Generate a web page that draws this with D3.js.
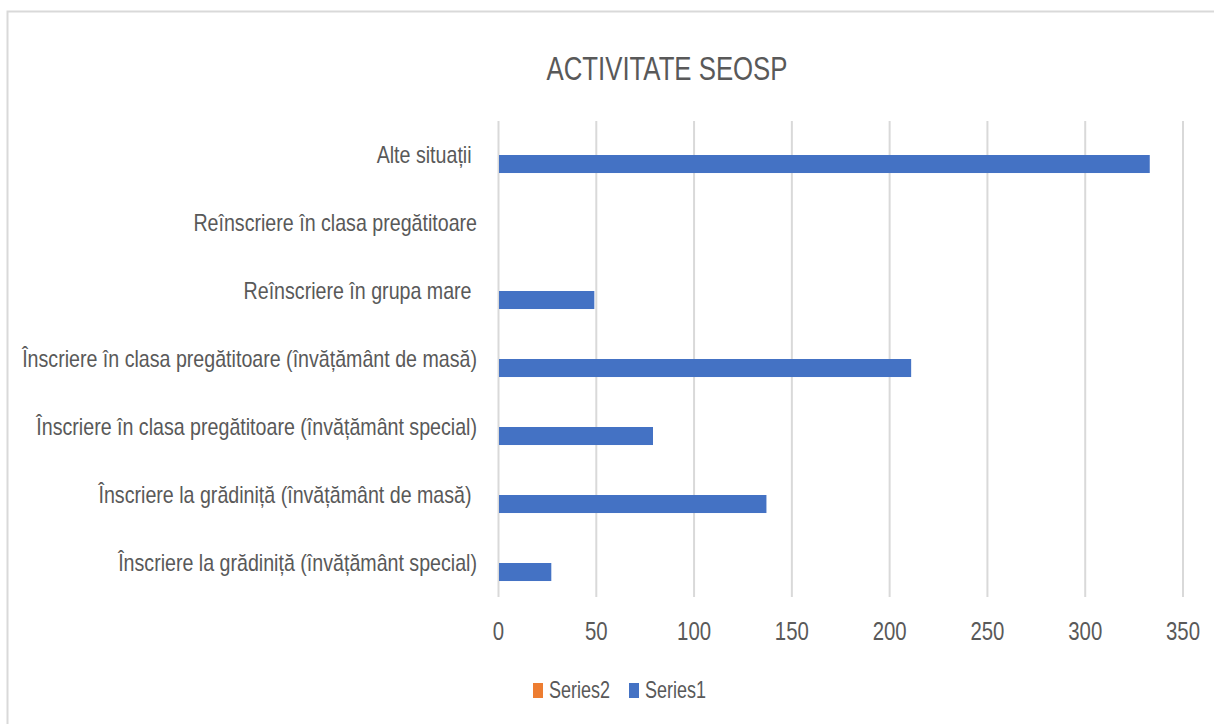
<!DOCTYPE html>
<html><head><meta charset="utf-8">
<script src="https://cdn.jsdelivr.net/npm/d3@7"></script>
<style>
body{margin:0;background:#fff;}
text{font-family:"Liberation Sans Narrow","Arial Narrow","Liberation Sans",sans-serif;fill:#595959;}
</style></head>
<body><svg id="c" width="1214" height="724"></svg>
<script>
const categories = [
  "Înscriere la grădiniță (învățământ special)",
  "Înscriere la grădiniță (învățământ de masă) ",
  "Înscriere în clasa pregătitoare (învățământ special)",
  "Înscriere în clasa pregătitoare (învățământ de masă)",
  "Reînscriere în grupa mare ",
  "Reînscriere în clasa pregătitoare",
  "Alte situații "
];
const series1 = [27, 137, 79, 211, 49, 0, 333];
const series2 = [0, 0, 0, 0, 0, 0, 0];
const seriesNames = ["Series2", "Series1"];
const seriesColors = ["#ED7D31", "#4472C4"];
const xTicks = [0, 50, 100, 150, 200, 250, 300, 350];
const title = "ACTIVITATE SEOSP";

const svg = d3.select("#c");
svg.append("rect").attr("x",7.5).attr("y",11.5).attr("width",1400).attr("height",900)
  .attr("fill","none").attr("stroke","#d9d9d9").attr("stroke-width",2);

const x = d3.scaleLinear().domain([0,350]).range([498.5,1183]);
const y = d3.scaleBand().domain(categories.slice().reverse()).range([121,597])
  .paddingInner(0.47).paddingOuter(0.235);
const sub = d3.scaleBand().domain(seriesNames).range([0,y.bandwidth()]);

// condensed-text helper: place text at (px,py) and squeeze horizontally by s
function place(sel, px, py, s){
  sel.attr("x",0).attr("y",0).attr("transform",(d,i,n)=>`translate(${px(d,i)},${py(d,i)}) scale(${s},1)`);
}
function widthOf(str, size){
  const t = svg.append("text").attr("font-size",size).style("white-space","pre").text(str);
  const w = t.node().getComputedTextLength(); t.remove(); return w;
}

// gridlines
svg.append("g").selectAll("line").data(xTicks).join("line")
  .attr("x1",d=>x(d)).attr("x2",d=>x(d)).attr("y1",121).attr("y2",597)
  .attr("stroke","#d9d9d9").attr("stroke-width",2);

// bars
const data = categories.map((c,i)=>({cat:c, vals:{Series2:series2[i], Series1:series1[i]}}));
seriesNames.forEach((s,si)=>{
  svg.append("g").selectAll("rect").data(data).join("rect")
    .attr("x",x(0)+0.5).attr("y",d=>y(d.cat)+sub(s))
    .attr("width",d=>Math.max(0,x(d.vals[s])-x(0)-0.5)).attr("height",sub.bandwidth())
    .attr("fill",seriesColors[si]);
});

// x axis labels
const tickS = 34/widthOf("350",25);
const tk = svg.append("g").selectAll("text").data(xTicks).join("text")
  .attr("text-anchor","middle").attr("font-size",25).text(d=>d);
place(tk, d=>x(d), ()=>640, tickS);

// category labels
const labS = 455/widthOf(categories[3],23);
const lb = svg.append("g").selectAll("text").data(categories).join("text")
  .attr("text-anchor","end").attr("font-size",23).attr("dy","0.35em").style("white-space","pre")
  .text(d=>d);
place(lb, ()=>477, d=>y(d)+y.bandwidth()/2, labS);

// title
const titS = 241/widthOf(title,34);
const tt = svg.append("text").attr("text-anchor","middle").attr("font-size",34).text(title);
place(tt, ()=>667, ()=>80, titS);

// legend
const legS = 61/widthOf("Series2",23);
const lg = svg.append("g");
const legendItems = [{n:"Series2",c:seriesColors[0],x:533},{n:"Series1",c:seriesColors[1],x:629}];
lg.selectAll("rect").data(legendItems).join("rect")
  .attr("x",d=>d.x).attr("y",683).attr("width",10).attr("height",15).attr("fill",d=>d.c);
const lt = lg.selectAll("text").data(legendItems).join("text")
  .attr("font-size",23).text(d=>d.n);
place(lt, d=>d.x+16, ()=>698, legS);
</script></body></html>
